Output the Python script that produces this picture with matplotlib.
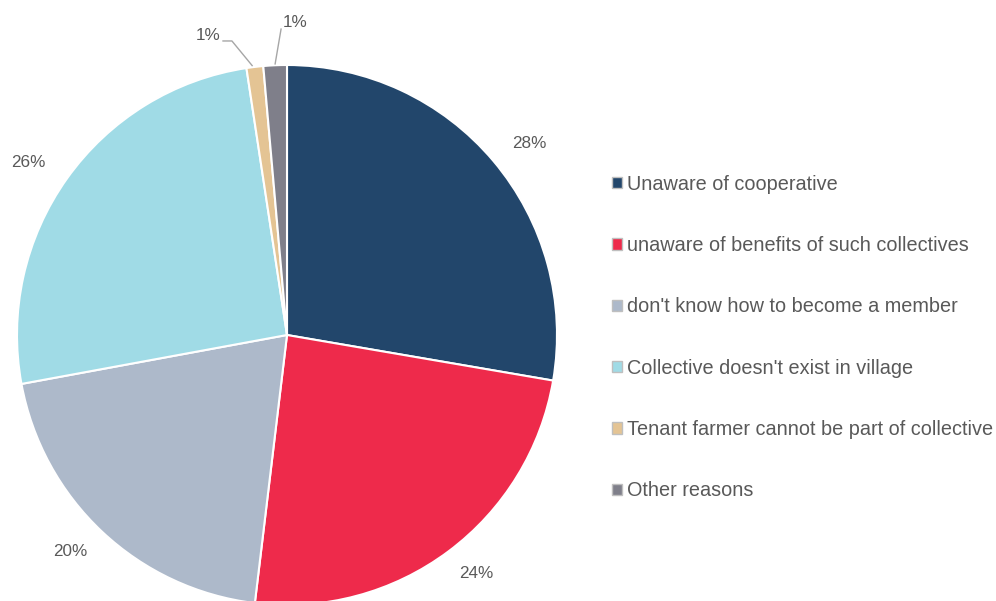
import numpy as np
import matplotlib.pyplot as plt
from matplotlib.patches import Patch

plt.rcParams['font.family'] = ['Liberation Sans', 'DejaVu Sans']

# data
reasons = ['Unaware of cooperative',
           'unaware of benefits of such collectives',
           "don't know how to become a member",
           "Collective doesn't exist in village",
           'Tenant farmer cannot be part of collective',
           'Other reasons']
shares = [27.7, 24.2, 20.2, 25.5, 1.0, 1.4]
pct_labels = ['28%', '24%', '20%', '26%', '1%', '1%']
colors = ['#22466B', '#EE2A4B', '#ADB9CA', '#A0DBE6', '#E4C494', '#7F7F8A']

txt = '#595959'

fig = plt.figure(figsize=(9.96, 6.01), dpi=100)
W, H = 996, 601
cx, cy, R = 287, 335, 270
ax = fig.add_axes([(cx - R) / W, (H - cy - R) / H, 2 * R / W, 2 * R / H])

wedges, _ = ax.pie(shares, colors=colors, startangle=90, counterclock=False,
                   radius=1, wedgeprops=dict(edgecolor='white', linewidth=1.5))
ax.set_xlim(-1, 1)
ax.set_ylim(-1, 1)
ax.axis('off')

# outside labels (Excel-style: pushed a bit more sideways than up/down)
for i, w in enumerate(wedges):
    mid = np.deg2rad((w.theta1 + w.theta2) / 2)
    if shares[i] >= 5:
        ax.text(1.175 * np.cos(mid), 1.10 * np.sin(mid), pct_labels[i],
                ha='center', va='center', fontsize=12.3, color=txt, clip_on=False)

# small slices with leader lines
m4 = np.deg2rad((wedges[4].theta1 + wedges[4].theta2) / 2)
p4 = (np.cos(m4), np.sin(m4))
ax.plot([p4[0] - 0.01, -0.204, -0.237], [p4[1] + 0.005, 1.089, 1.089],
        color='#A6A6A6', lw=1, clip_on=False)
ax.text(-0.245, 1.108, pct_labels[4], ha='right', va='center', fontsize=12.3,
        color=txt, clip_on=False)

m5 = np.deg2rad((wedges[5].theta1 + wedges[5].theta2) / 2)
p5 = (np.cos(m5), np.sin(m5))
ax.plot([p5[0], -0.022], [p5[1] + 0.005, 1.133],
        color='#A6A6A6', lw=1, clip_on=False)
ax.text(0.030, 1.156, pct_labels[5], ha='center', va='center', fontsize=12.3,
        color=txt, clip_on=False)

handles = [Patch(facecolor=c, edgecolor='#BFBFBF', linewidth=1) for c in colors]
fig.legend(handles, reasons, loc='center left', bbox_to_anchor=(612 / W, 1 - 337.5 / H),
           frameon=False, fontsize=14.3, labelcolor=txt, handlelength=0.5,
           handleheight=0.5, handletextpad=0.25, labelspacing=2.13,
           borderpad=0, borderaxespad=0)

fig.savefig('out.png', dpi=100)
